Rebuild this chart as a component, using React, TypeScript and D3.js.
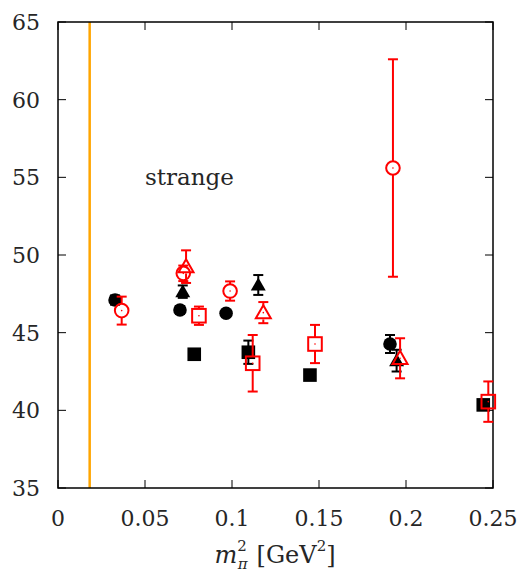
import React from "react";
import * as d3 from "d3";

const xTicks = [0, 0.05, 0.1, 0.15, 0.2, 0.25];
const xTickLabels = ["0", "0.05", "0.1", "0.15", "0.2", "0.25"];
const yTicks = [35, 40, 45, 50, 55, 60, 65];

const physX = 0.0182;

const blackCircleX = [0.0328, 0.0701, 0.0966, 0.1908];
const blackCircleY = [47.1, 46.46, 46.25, 44.27];
const blackCircleE = [0.3, 0.25, 0.2, 0.58];

const blackSquareX = [0.0783, 0.1094, 0.1448, 0.2444];
const blackSquareY = [43.61, 43.74, 42.27, 40.35];
const blackSquareE = [0.15, 0.75, 0.25, 0.3];

const blackTriX = [0.0717, 0.1151, 0.1946];
const blackTriY = [47.64, 48.07, 43.2];
const blackTriE = [0.4, 0.64, 0.7];

const redCircleX = [0.0366, 0.072, 0.0989, 0.1925];
const redCircleY = [46.42, 48.82, 47.68, 55.6];
const redCircleE = [0.9, 0.5, 0.62, 7.0];

const redTriX = [0.0736, 0.118, 0.1966];
const redTriY = [49.25, 46.29, 43.35];
const redTriE = [1.05, 0.68, 1.29];

const redSquareX = [0.081, 0.1119, 0.1477, 0.2473];
const redSquareY = [46.09, 43.03, 44.27, 40.56];
const redSquareE = [0.59, 1.82, 1.23, 1.3];

const W = 519, H = 575;
const L = 58, R = 493, T = 22, B = 488;
const FONT = "DejaVu Serif";
const TXT = "#262626";

const xs = d3.scaleLinear().domain([0, 0.25]).range([L, R]);
const ys = d3.scaleLinear().domain([35, 65]).range([B, T]);

type Shape = "circle" | "square" | "tri";

function Series({ xv, yv, ev, shape, color, filled }: { xv: number[]; yv: number[]; ev: number[]; shape: Shape; color: string; filled: boolean }) {
  const r = filled ? 6.8 : 6.8;
  const cap = 5;
  return (
    <g>
      {xv.map((xx, i) => {
        const cx = xs(xx), cy = ys(yv[i]);
        const y1 = ys(yv[i] + ev[i]), y2 = ys(yv[i] - ev[i]);
        const gap = filled ? 0 : r;
        let marker;
        if (shape === "circle") {
          marker = <circle cx={cx} cy={cy} r={r} fill={filled ? color : "none"} stroke={color} strokeWidth={filled ? 0 : 2} />;
        } else if (shape === "square") {
          marker = <rect x={cx - r} y={cy - r} width={2 * r} height={2 * r} fill={filled ? color : "none"} stroke={color} strokeWidth={filled ? 0 : 2} />;
        } else {
          const h = r * 1.1;
          const pts = `${cx},${cy - h} ${cx - h},${cy + h * 0.75} ${cx + h},${cy + h * 0.75}`;
          marker = <polygon points={pts} fill={filled ? color : "none"} stroke={color} strokeWidth={filled ? 0 : 2} strokeLinejoin="miter" />;
        }
        return (
          <g key={i}>
            {y1 < cy - gap && <line x1={cx} x2={cx} y1={y1} y2={cy - gap} stroke={color} strokeWidth={2} />}
            {y2 > cy + gap && <line x1={cx} x2={cx} y1={cy + gap} y2={y2} stroke={color} strokeWidth={2} />}
            <line x1={cx - cap} x2={cx + cap} y1={y1} y2={y1} stroke={color} strokeWidth={2} />
            <line x1={cx - cap} x2={cx + cap} y1={y2} y2={y2} stroke={color} strokeWidth={2} />
            {marker}
            {!filled && <circle cx={cx} cy={cy} r={0.8} fill={color} />}
          </g>
        );
      })}
    </g>
  );
}

export default function App() {
  return (
    <svg width={W} height={H} style={{ position: "absolute", left: 0, top: 0, background: "#fff" }}>
      <rect x={0} y={0} width={W} height={H} fill="#fff" />
      <line x1={xs(physX)} x2={xs(physX)} y1={T} y2={B} stroke="#FFA500" strokeWidth={2.5} />
      {xTicks.map((t, i) => (
        <g key={"x" + i}>
          <line x1={xs(t)} x2={xs(t)} y1={B} y2={B - 8} stroke="#000" strokeWidth={1} />
          <line x1={xs(t)} x2={xs(t)} y1={T} y2={T + 8} stroke="#000" strokeWidth={1} />
          <text x={xs(t)} y={526} textAnchor="middle" fontFamily={FONT} fontSize={22} fill={TXT}>{xTickLabels[i]}</text>
        </g>
      ))}
      {yTicks.map((t, i) => (
        <g key={"y" + i}>
          <line x1={L} x2={L + 8} y1={ys(t)} y2={ys(t)} stroke="#000" strokeWidth={1} />
          <line x1={R} x2={R - 8} y1={ys(t)} y2={ys(t)} stroke="#000" strokeWidth={1} />
          <text x={40} y={ys(t) + 8} textAnchor="end" fontFamily={FONT} fontSize={22} fill={TXT}>{t}</text>
        </g>
      ))}
      <rect x={L} y={T} width={R - L} height={B - T} fill="none" stroke="#000" strokeWidth={1.5} />
      <text x={145} y={185} fontFamily={FONT} fontSize={23} fill={TXT}>strange</text>

      <Series xv={blackCircleX} yv={blackCircleY} ev={blackCircleE} shape="circle" color="#000" filled />
      <Series xv={blackSquareX} yv={blackSquareY} ev={blackSquareE} shape="square" color="#000" filled />
      <Series xv={blackTriX} yv={blackTriY} ev={blackTriE} shape="tri" color="#000" filled />
      <Series xv={redCircleX} yv={redCircleY} ev={redCircleE} shape="circle" color="#ff0000" filled={false} />
      <Series xv={redTriX} yv={redTriY} ev={redTriE} shape="tri" color="#ff0000" filled={false} />
      <Series xv={redSquareX} yv={redSquareY} ev={redSquareE} shape="square" color="#ff0000" filled={false} />

      <text x={275} y={563} textAnchor="middle" fontFamily={FONT} fontSize={24} fill={TXT}>
        <tspan fontStyle="italic">m</tspan>
        <tspan fontSize={15} dy={-12}>2</tspan>
        <tspan fontSize={15} fontStyle="italic" dx={-9} dy={18}>π</tspan>
        <tspan dy={-6} dx={9}>[GeV</tspan>
        <tspan fontSize={15} dy={-12}>2</tspan>
        <tspan dy={12}>]</tspan>
      </text>
    </svg>
  );
}
